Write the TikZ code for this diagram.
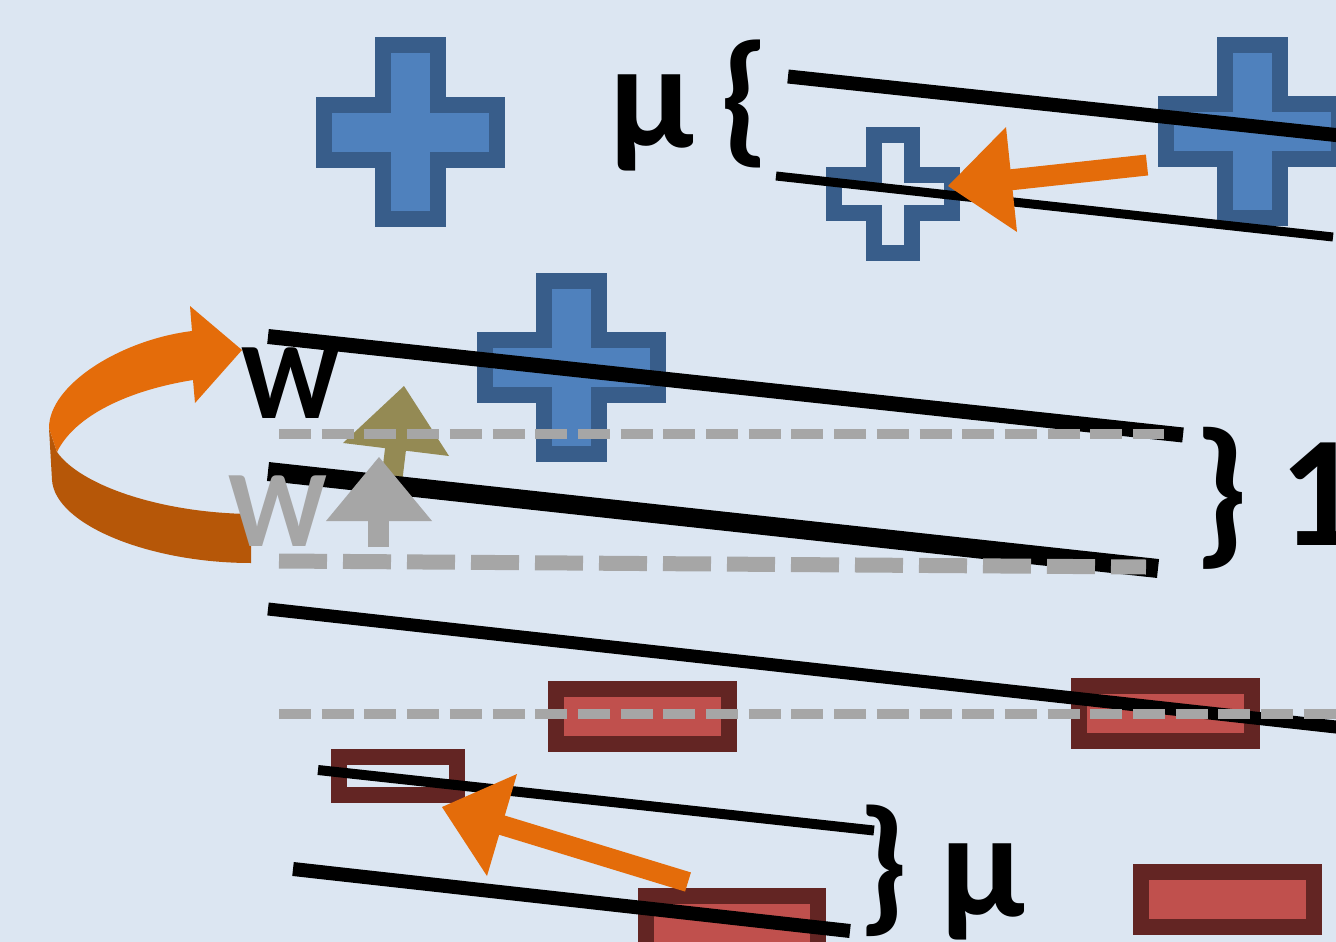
\documentclass[tikz,border=0pt]{standalone}
\usepackage{fontspec}
\setmainfont{Carlito}
\definecolor{bgc}{HTML}{DCE6F2}
\definecolor{bluefill}{HTML}{4F81BD}
\definecolor{blueline}{HTML}{385D8A}
\definecolor{redfill}{HTML}{C0504D}
\definecolor{redline}{HTML}{632523}
\definecolor{orangeA}{HTML}{E46C0A}
\definecolor{orangeB}{HTML}{B65708}
\definecolor{olive}{HTML}{948A54}
\definecolor{grayc}{HTML}{A6A6A6}
\newcommand{\plusshape}[5]{%
  \draw[#1] ({#2-#5},{#3-#4}) -- ({#2+#5},{#3-#4}) -- ({#2+#5},{#3-#5}) -- ({#2+#4},{#3-#5})
   -- ({#2+#4},{#3+#5}) -- ({#2+#5},{#3+#5}) -- ({#2+#5},{#3+#4}) -- ({#2-#5},{#3+#4})
   -- ({#2-#5},{#3+#5}) -- ({#2-#4},{#3+#5}) -- ({#2-#4},{#3-#5}) -- ({#2-#5},{#3-#5}) -- cycle;}
\tikzset{
  bluecross/.style={fill=bluefill, draw=blueline, line width=16pt, miter limit=10},
  hollowcross/.style={draw=blueline, line width=16pt, miter limit=10},
  redbox/.style={fill=redfill, draw=redline, line width=16pt},
  hollowbox/.style={draw=redline, line width=16pt},
  bar/.style={draw=black, line cap=butt},
  dashA/.style={draw=grayc, line width=10pt, dash pattern=on 32pt off 10.7pt},
  dashB/.style={draw=grayc, line width=15pt, dash pattern=on 48pt off 16pt},
  txt/.style={inner sep=0pt, outer sep=0pt, anchor=base},
  shaft/.style={line cap=butt}
}
\begin{document}
\begin{tikzpicture}[x=1pt,y=-1pt]
\fill[bgc] (0,0) rectangle (1336,942);
\useasboundingbox (0,0) rectangle (1336,942);

% crosses
\plusshape{bluecross}{410.5}{132}{86.5}{27.5}
\plusshape{bluecross}{1252.5}{131.5}{86.5}{27.5}
\plusshape{bluecross}{571.5}{367}{86.5}{27.5}
\plusshape{hollowcross}{893}{194}{59}{19}

% red boxes
\draw[redbox] (556,689) rectangle (729,744);
\draw[redbox] (1079,686) rectangle (1252,741);
\draw[redbox] (1141,872) rectangle (1314,927);
\draw[redbox] (646,896) rectangle (818,951);
\draw[hollowbox] (339,757) rectangle (457,795);

% curved ribbon arrow
\fill[orangeB] (49,428) -- (57,452) .. controls (80,485) and (160,513) .. (251,514)
  -- (251,563) .. controls (150,563) and (55,525) .. (52,480) -- cycle;
\fill[orangeA] (49,428) .. controls (49,385) and (120,340) .. (192,331) -- (190,306)
  -- (242,350) -- (195,403) -- (193,380) .. controls (130,390) and (75,415) .. (57,452) -- cycle;

% olive arrow
\draw[olive, shaft, line width=21pt] (390,495) -- (396,445);
\fill[olive] (404,386) -- (343,443) -- (449,456) -- cycle;

% black lines
\draw[bar, line width=14pt] (788,76.5) -- (1345,136);
\draw[bar, line width=9pt] (776,176) -- (1333,237);
\draw[bar, line width=15pt] (268,336.5) -- (1183,435);
\draw[bar, line width=19pt] (268,471.5) -- (1158,568.5);
\draw[bar, line width=13pt] (268,609) -- (1345,728);
\draw[bar, line width=10pt] (318,770) -- (874,830.5);
\draw[bar, line width=14pt] (293,869) -- (850,931);

% dashed lines (over the black lines)
\draw[dashA] (279,434) -- (1164,434);
\draw[dashB] (279,561) -- (1146,567);
\draw[dashA] (279,714) -- (1345,714);

% gray arrow
\draw[grayc, shaft, line width=21pt] (378.5,547) -- (378.5,515);
\fill[grayc] (379,457) -- (326,521) -- (432,521) -- cycle;

% orange straight arrows
\draw[orangeA, shaft, line width=21pt] (1147,165) -- (1000,181);
\fill[orangeA] (948,186) -- (1006,127) -- (1017,232) -- cycle;
\draw[orangeA, shaft, line width=20pt] (688,882) -- (495,823);
\fill[orangeA] (442,807) -- (517,774) -- (487,876) -- cycle;

% texts
\node[txt, font=\bfseries\fontsize{150}{150}\selectfont] (mutop) at (652,147) {μ};
\node[txt, font=\bfseries\fontsize{146}{146}\selectfont] (lbrace) at (745,146) {\{};
\node[txt, font=\bfseries\fontsize{109}{109}\selectfont] (wblack) at (291,418) {W};
\node[txt, font=\bfseries\fontsize{109}{109}\selectfont, text=grayc] (wgray) at (278,546) {W};
\node[txt, font=\bfseries\fontsize{162}{162}\selectfont] (rbrace) at (1221,545) {\}};
\node[txt, font=\bfseries\fontsize{158}{158}\selectfont] (one) at (1320,545) {1};
\node[txt, font=\bfseries\fontsize{150}{150}\selectfont] (rbrace2) at (883,914) {\}};
\node[txt, font=\bfseries\fontsize{150}{150}\selectfont] (mubot) at (983,916) {μ};
\end{tikzpicture}
\end{document}
